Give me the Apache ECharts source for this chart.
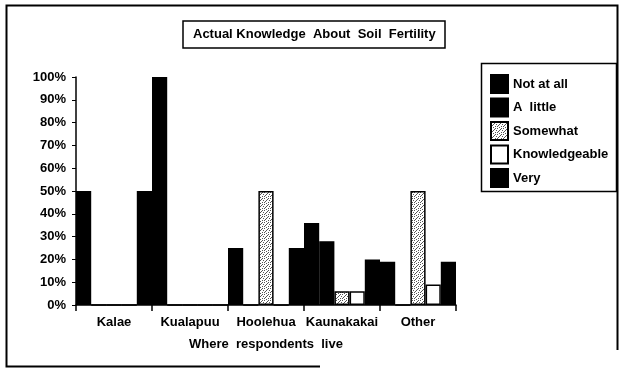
<!DOCTYPE html>
<html>
<head>
<meta charset="utf-8">
<script src="https://cdn.jsdelivr.net/npm/echarts@6/dist/echarts.min.js"></script>
<style>
  html, body { margin: 0; padding: 0; background: #fff; }
  #chart { width: 624px; height: 369px; }
</style>
</head>
<body>
<div id="chart"></div>
<script>
// Where respondents live
const categories = ['Kalae', 'Kualapuu', 'Hoolehua', 'Kaunakakai', 'Other'];

// Share of respondents at each knowledge level (fraction of 1)
const notAtAll      = [0.50, 1.00, 0.25, 0.36, 0.19];
const aLittle       = [0.00, 0.00, 0.00, 0.28, 0.00];
const somewhat      = [0.00, 0.00, 0.50, 0.06, 0.50];
const knowledgeable = [0.00, 0.00, 0.00, 0.06, 0.09];
const very          = [0.50, 0.00, 0.25, 0.20, 0.19];

const yTicks = [0, 0.1, 0.2, 0.3, 0.4, 0.5, 0.6, 0.7, 0.8, 0.9, 1.0];

const FONT = '"Liberation Sans", Arial, Helvetica, sans-serif';

// Stippled fill for the "Somewhat" bars
function stipple() {
  const c = document.createElement('canvas');
  c.width = 6; c.height = 6;
  const g = c.getContext('2d');
  g.fillStyle = '#ffffff';
  g.fillRect(0, 0, 6, 6);
  g.fillStyle = '#555555';
  [[0, 0], [3, 1], [1, 3], [4, 4], [2, 5], [5, 2], [4, 0], [0, 4], [2, 2]].forEach(([x, y]) => g.fillRect(x, y, 1, 1));
  return c;
}

const chart = echarts.init(document.getElementById('chart'), null, { renderer: 'canvas' });

function bar(name, data, fill, border) {
  return {
    name,
    type: 'bar',
    data,
    barGap: '0%',
    barCategoryGap: '0%',
    itemStyle: { color: fill, borderColor: border, borderWidth: 1.5 },
    emphasis: { disabled: true }
  };
}

chart.setOption({
  animation: false,
  backgroundColor: '#ffffff',
  textStyle: { fontFamily: FONT },
  title: {
    text: 'Actual Knowledge  About  Soil  Fertility',
    left: 183,
    top: 21,
    padding: [7, 10, 7, 10],
    borderColor: '#000',
    borderWidth: 1.5,
    textStyle: { fontFamily: FONT, fontSize: 13, fontWeight: 'bold', color: '#000' }
  },
  legend: {
    orient: 'vertical',
    left: 490,
    top: 74,
    padding: 0,
    itemWidth: 17,
    itemHeight: 18,
    itemGap: 3.5,
    icon: 'rect',
    selectedMode: false,
    textStyle: { fontFamily: FONT, fontSize: 13, fontWeight: 'bold', color: '#000' },
    data: ['Not at all', 'A  little', 'Somewhat', 'Knowledgeable', 'Very']
  },
  grid: { left: 76, right: 168, top: 77, bottom: 64, containLabel: false },
  xAxis: {
    type: 'category',
    data: categories,
    name: 'Where  respondents  live',
    nameLocation: 'middle',
    nameGap: 33,
    nameTextStyle: { fontFamily: FONT, fontSize: 13, fontWeight: 'bold', color: '#000' },
    axisLine: { lineStyle: { color: '#000', width: 1.5 } },
    axisTick: { show: true, length: 6, inside: false, lineStyle: { color: '#000', width: 1.5 } },
    axisLabel: { interval: 0, fontFamily: FONT, fontSize: 13, fontWeight: 'bold', color: '#000', margin: 11 }
  },
  yAxis: {
    type: 'value',
    min: yTicks[0],
    max: yTicks[yTicks.length - 1],
    interval: 0.1,
    axisLine: { show: true, lineStyle: { color: '#000', width: 1.5 } },
    axisTick: { show: true, length: 4, lineStyle: { color: '#000', width: 1 } },
    splitLine: { show: false },
    axisLabel: {
      fontFamily: FONT, fontSize: 13, fontWeight: 'bold', color: '#000', margin: 10,
      formatter: v => Math.round(v * 100) + '%'
    }
  },
  series: [
    bar('Not at all', notAtAll, '#000', '#000'),
    bar('A  little', aLittle, '#000', '#000'),
    bar('Somewhat', somewhat, { image: stipple(), repeat: 'repeat' }, '#000'),
    bar('Knowledgeable', knowledgeable, '#fff', '#000'),
    bar('Very', very, '#000', '#000')
  ],
  graphic: [
    // outer frame
    { type: 'polyline', silent: true, shape: { points: [[320, 366.5], [6.5, 366.5], [6.5, 5.5], [617.5, 5.5], [617.5, 350]] },
      style: { stroke: '#000', lineWidth: 2, fill: null } },
    // legend box
    { type: 'rect', silent: true, shape: { x: 481.5, y: 63.5, width: 135, height: 128 },
      style: { stroke: '#000', lineWidth: 1.5, fill: null } }
  ]
});
</script>
</body>
</html>
